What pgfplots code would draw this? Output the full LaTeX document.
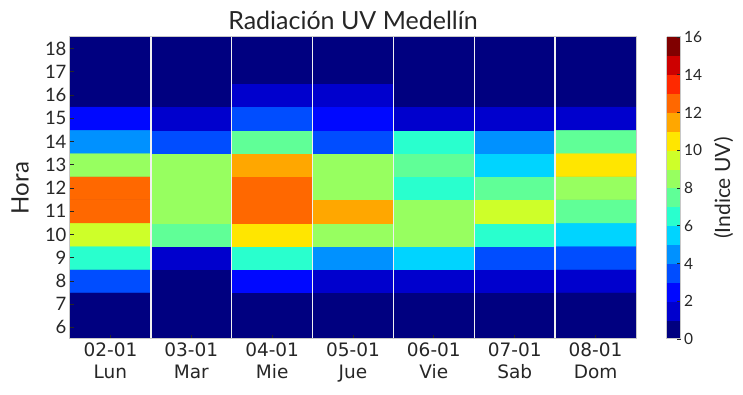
\documentclass[border=0pt]{standalone}
\usepackage{fontspec}
\setmainfont{Lato}
\newfontfamily\dejavu{DejaVu Sans}
\usepackage{pgfplots}
\pgfplotsset{compat=1.18}
\definecolor{txt}{HTML}{262626}
\definecolor{framec}{HTML}{C8C8C8}
\definecolor{navy}{RGB}{0,0,128}
\begin{document}
\begin{tikzpicture}
\useasboundingbox (-70pt,-56pt) rectangle (673pt,339pt);
\begin{axis}[
  scale only axis, width=566pt, height=302pt,
  /pgf/number format/assume math mode=true,
  axis background/.style={fill=navy},
  xmin=-0.5, xmax=6.5, ymin=5.5, ymax=18.5,
  xtick={0,...,6},
  xticklabels={{02-01\\Lun},{03-01\\Mar},{04-01\\Mie},{05-01\\Jue},{06-01\\Vie},{07-01\\Sab},{08-01\\Dom}},
  xticklabel style={font=\dejavu\fontsize{18.5}{22}\selectfont, align=center, text=txt},
  ytick={6,...,18},
  yticklabel style={font=\fontsize{18.5}{20}\selectfont, text=txt},
  tick align=inside, tick pos=left, major tick length=4pt,
  major tick style={txt, line width=0.8pt},
  minor xtick={0.5,1.5,...,5.5}, xminorgrids, minor tick length=0pt,
  minor grid style={white!88!gray, line width=1.3pt},
  axis line style={framec, line width=1pt},
  title={Radiación UV Medellín},
  title style={font=\fontsize{25}{28}\selectfont, text=txt, yshift=-2pt},
  ylabel={Hora},
  ylabel style={font=\fontsize{24}{26}\selectfont, text=txt, at={(axis description cs:-0.088,0.5)}, anchor=center},
  colormap={uv}{rgb255(0cm)=(0,0,128); rgb255(1cm)=(0,0,205); rgb255(2cm)=(0,8,255); rgb255(3cm)=(0,77,255);
    rgb255(4cm)=(0,145,255); rgb255(5cm)=(0,212,255); rgb255(6cm)=(41,255,206); rgb255(7cm)=(96,255,151);
    rgb255(8cm)=(151,255,96); rgb255(9cm)=(206,255,41); rgb255(10cm)=(255,230,0); rgb255(11cm)=(255,167,0);
    rgb255(12cm)=(255,104,0); rgb255(13cm)=(255,41,0); rgb255(14cm)=(205,0,0); rgb255(15cm)=(128,0,0);
    rgb255(16cm)=(128,0,0)},
  colormap access=piecewise constant,
  point meta min=0, point meta max=16,
  colorbar,
  colorbar style={
    at={(parent axis.south east)}, anchor=south west, xshift=22pt,
    scale only axis, width=14pt, height=302pt,
    /pgf/number format/assume math mode=true,
    ytick={0,2,...,16}, ytick pos=right,
    yticklabel style={font=\fontsize{15.5}{17}\selectfont, text=txt},
    ylabel={(Indice UV)},
    ylabel style={font=\fontsize{21}{24}\selectfont, text=txt, at={(axis description cs:4.07,0.5)}, anchor=center},
    axis line style={framec, line width=1pt},
    major tick style={txt, line width=0.8pt}, major tick length=4pt, tick align=inside,
  },
  axis on top,
]
\addplot[matrix plot*, mesh/cols=7, point meta=explicit, shader=faceted, faceted color=mapped color, line width=0.4pt] table[meta=v] {
x y v
0 6 0
1 6 0
2 6 0
3 6 0
4 6 0
5 6 0
6 6 0
0 7 0
1 7 0
2 7 0
3 7 0
4 7 0
5 7 0
6 7 0
0 8 3
1 8 0
2 8 2
3 8 1
4 8 1
5 8 1
6 8 1
0 9 6
1 9 1
2 9 6
3 9 4
4 9 5
5 9 3
6 9 3
0 10 9
1 10 7
2 10 10
3 10 8
4 10 8
5 10 6
6 10 5
0 11 12
1 11 8
2 11 12
3 11 11
4 11 8
5 11 9
6 11 7
0 12 12
1 12 8
2 12 12
3 12 8
4 12 6
5 12 7
6 12 8
0 13 8
1 13 8
2 13 11
3 13 8
4 13 7
5 13 5
6 13 10
0 14 4
1 14 3
2 14 7
3 14 3
4 14 6
5 14 4
6 14 7
0 15 2
1 15 1
2 15 3
3 15 2
4 15 1
5 15 1
6 15 1
0 16 0
1 16 0
2 16 1
3 16 1
4 16 0
5 16 0
6 16 0
0 17 0
1 17 0
2 17 0
3 17 0
4 17 0
5 17 0
6 17 0
0 18 0
1 18 0
2 18 0
3 18 0
4 18 0
5 18 0
6 18 0
};
\end{axis}
\end{tikzpicture}
\end{document}
